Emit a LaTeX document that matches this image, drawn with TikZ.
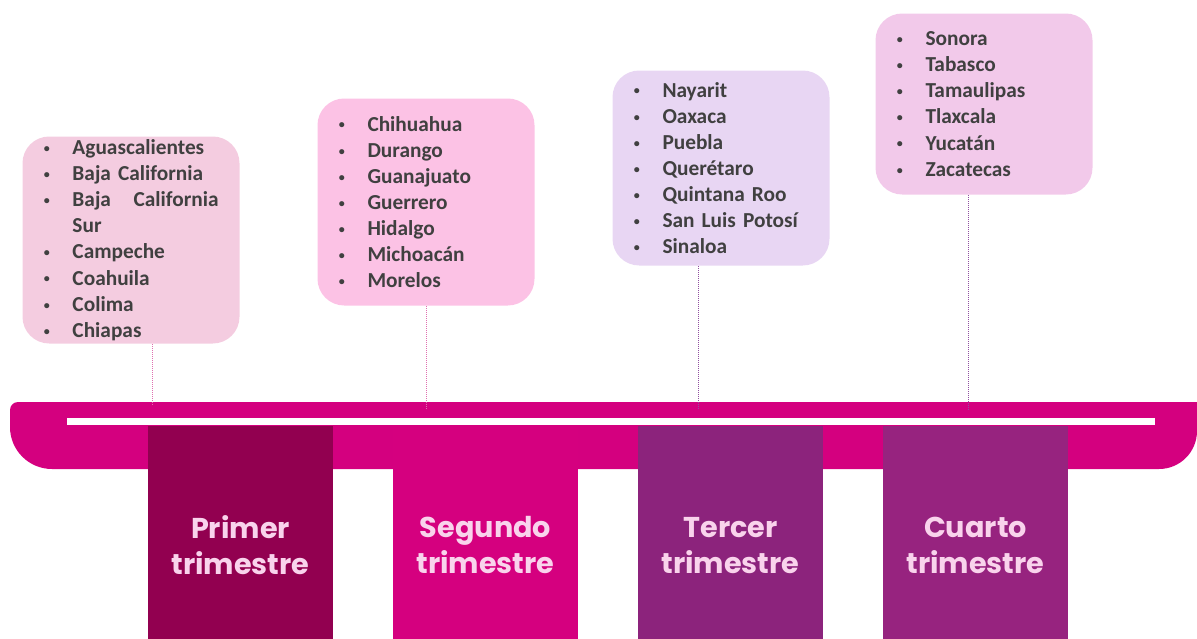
\documentclass[tikz,border=0pt]{standalone}
\usepackage{fontspec}
\setmainfont{Carlito}
\newfontfamily\panelfont{Poppins}
\usetikzlibrary{positioning}

\definecolor{barmagenta}{HTML}{D4007F}
\definecolor{primercol}{HTML}{920050}
\definecolor{segundocol}{HTML}{D5007F}
\definecolor{tercercol}{HTML}{8C237C}
\definecolor{cuartocol}{HTML}{97237F}
\definecolor{paneltext}{HTML}{F9D3EC}
\definecolor{listgray}{HTML}{404040}
\definecolor{boxpink}{HTML}{F4CCE0}
\definecolor{boxrose}{HTML}{FCC2E5}
\definecolor{boxlilac}{HTML}{E8D6F3}
\definecolor{boxorchid}{HTML}{F2C9EA}
\definecolor{linkpink}{HTML}{E070B0}
\definecolor{linkpurple}{HTML}{9050A0}

\tikzset{every picture/.style={line width=0.75pt}}
\tikzset{
  statebox/.style={rounded corners=20pt, minimum width=162.75pt, inner xsep=15pt, inner ysep=0pt,
    text width=132.75pt, align=left, anchor=north west, text=listgray,
    font=\fontsize{16}{19.6}\selectfont\bfseries},
  panel/.style={minimum width=138.75pt, minimum height=180pt, anchor=north, inner sep=0pt,
    text=paneltext, align=center, font=\panelfont\bfseries\fontsize{21.5}{27}\selectfont},
  link/.style={line width=0.5pt, dash pattern={on 0.75pt off 0.75pt}}
}
\newcommand{\bul}{\makebox[22.5pt][l]{\hspace{1pt}\raisebox{1.6pt}{\fontsize{9}{9}\selectfont\textbullet}}}

\begin{document}
\begin{tikzpicture}[x=0.75pt,y=0.75pt,yscale=-1,xscale=1]
	\useasboundingbox (0,0) rectangle (1197,639);

	%Shape: Bar
	\fill [barmagenta] (10,410) .. controls (10,405.6) and (13.6,402) .. (18,402) -- (1197,402) -- (1197,431) .. controls (1197,451.99) and (1179.99,469) .. (1159,469) -- (52,469) .. controls (28.8,469) and (10,450.2) .. (10,427) -- cycle ;
	%Shape: White stripe
	\fill [white] (67,418) rectangle (1155,425) ;

	% Panels
	\node [panel, fill=primercol] (primer) at (240.5,425) {Primer\\trimestre};
	\node [panel, fill=segundocol] (segundo) at (485.5,425) {Segundo\\trimestre};
	\node [panel, fill=tercercol] (tercer) at (730.5,425) {Tercer\\trimestre};
	\node [panel, fill=cuartocol] (cuarto) at (975.5,425) {Cuarto\\trimestre};

	% Lists of states
	\node [statebox, fill=boxpink, minimum height=155.25pt] (lista1) at (22,136) {\bul Aguascalientes\\\bul Baja California\\\bul\makebox[109.5pt][s]{Baja\hfill California}\\\hspace*{22.5pt}Sur\\\bul Campeche\\\bul Coahuila\\\bul Colima\\\bul Chiapas};
	\node [statebox, fill=boxrose, minimum height=155.25pt] (lista2) at (317,98) {\bul Chihuahua\\\bul Durango\\\bul Guanajuato\\\bul Guerrero\\\bul Hidalgo\\\bul Michoacán\\\bul Morelos};
	\node [statebox, fill=boxlilac, minimum height=146.25pt] (lista3) at (612,70) {\bul Nayarit\\\bul Oaxaca\\\bul Puebla\\\bul Querétaro\\\bul Quintana Roo\\\bul San Luis Potosí\\\bul Sinaloa};
	\node [statebox, fill=boxorchid, minimum height=135.75pt] (lista4) at (875,13) {\bul Sonora\\\bul Tabasco\\\bul Tamaulipas\\\bul Tlaxcala\\\bul Yucatán\\\bul Zacatecas};

	% Connectors
	\coordinate (p1) at (152,406);
	\coordinate (p2) at (426,410);
	\coordinate (p3) at (698,410);
	\coordinate (p4) at (968,410);
	\draw [link, linkpink] (lista1.south -| p1) -- (p1) ;
	\draw [link, linkpink] (lista2.south -| p2) -- (p2) ;
	\draw [link, linkpurple] (lista3.south -| p3) -- (p3) ;
	\draw [link, linkpurple] (lista4.south -| p4) -- (p4) ;
\end{tikzpicture}
\end{document}
